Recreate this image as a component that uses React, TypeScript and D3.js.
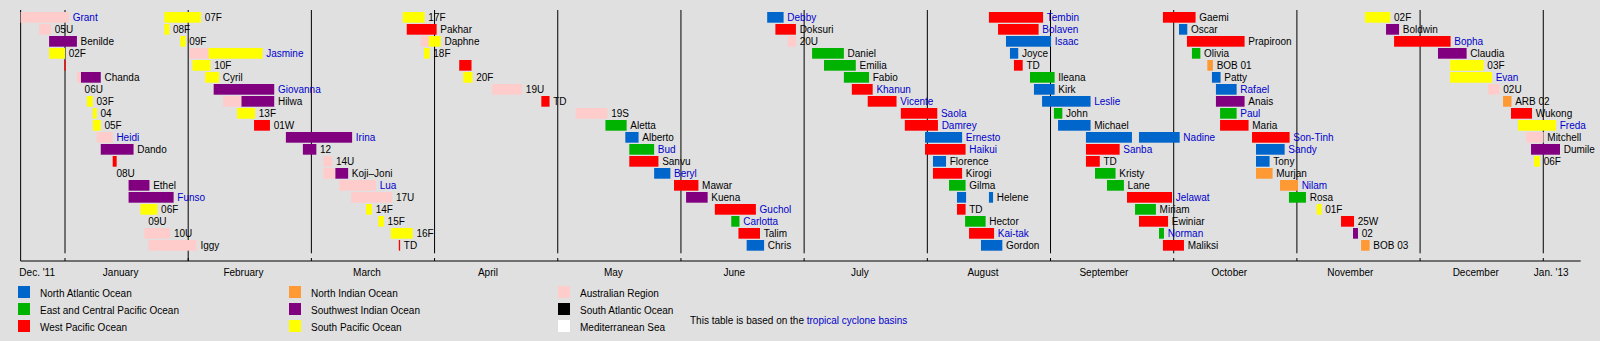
import React from "react";
import * as d3 from "d3";

type Seg = [string, string, string, number];

const northAtlantic: Seg[] = [
  ["Alberto", "2012-05-18", "2012-05-21T08", 10],
  ["Beryl", "2012-05-25T06", "2012-05-29T08", 13],
  ["Chris", "2012-06-17", "2012-06-21T06", 19],
  ["Debby", "2012-06-22", "2012-06-26", 0],
  ["Ernesto", "2012-07-31T10", "2012-08-09T18", 10],
  ["Florence", "2012-08-02T10", "2012-08-05T17", 12],
  ["Helene", "2012-08-08T11", "2012-08-10T18", 15],
  ["Helene", "2012-08-16T12", "2012-08-17T13", 15],
  ["Gordon", "2012-08-14T12", "2012-08-19T21", 19],
  ["Isaac", "2012-08-20T19", "2012-09-01T03", 2],
  ["Joyce", "2012-08-21T19", "2012-08-23T21", 3],
  ["Kirk", "2012-08-27T20", "2012-09-02", 6],
  ["Leslie", "2012-08-29T21", "2012-09-10T18", 7],
  ["Michael", "2012-09-02T20", "2012-09-10T18", 9],
  ["Nadine", "2012-09-09T15", "2012-09-20T20", 10],
  ["Nadine", "2012-09-22T13", "2012-10-02T12", 10],
  ["Oscar", "2012-10-02T08", "2012-10-04T10", 1],
  ["Patty", "2012-10-10T15", "2012-10-12T19", 5],
  ["Rafael", "2012-10-11T15", "2012-10-16T20", 6],
  ["Sandy", "2012-10-21T17", "2012-10-28T22", 11],
  ["Tony", "2012-10-21T17", "2012-10-25T03", 12],
];

const eastPacific: Seg[] = [
  ["Aletta", "2012-05-13", "2012-05-18T08", 9],
  ["Bud", "2012-05-19", "2012-05-25T06", 11],
  ["Carlotta", "2012-06-13T06", "2012-06-15T06", 17],
  ["Daniel", "2012-07-03", "2012-07-11", 3],
  ["Emilia", "2012-07-06", "2012-07-14", 4],
  ["Fabio", "2012-07-11", "2012-07-17T08", 5],
  ["Gilma", "2012-08-06T11", "2012-08-10T15", 14],
  ["Hector", "2012-08-10T12", "2012-08-15T16", 17],
  ["Ileana", "2012-08-26T20", "2012-09-02", 5],
  ["John", "2012-09-01T20", "2012-09-03T21", 8],
  ["Kristy", "2012-09-11T20", "2012-09-16T20", 13],
  ["Lane", "2012-09-14T18", "2012-09-18T21", 14],
  ["Miriam", "2012-09-21T14", "2012-09-26T16", 16],
  ["Norman", "2012-09-27T10", "2012-09-28T15", 18],
  ["Olivia", "2012-10-05T14", "2012-10-07T17", 3],
  ["Paul", "2012-10-12T16", "2012-10-16T20", 8],
  ["Rosa", "2012-10-30", "2012-11-03T05", 15],
];

const westPacific: Seg[] = [
  ["TD", "2011-12-31T20", "2012-01-01T04", 4],
  ["TD", "2012-01-13", "2012-01-14", 12],
  ["01W", "2012-02-16T12", "2012-02-20T06", 9],
  ["TD", "2012-03-23", "2012-03-23T08", 19],
  ["Pakhar", "2012-03-25", "2012-04-01T12", 1],
  ["TD", "2012-04-07", "2012-04-10", 4],
  ["TD", "2012-04-27", "2012-04-29", 7],
  ["Sanvu", "2012-05-19", "2012-05-26T08", 12],
  ["Mawar", "2012-05-30T06", "2012-06-05T06", 14],
  ["Guchol", "2012-06-09T06", "2012-06-19T06", 16],
  ["Talim", "2012-06-15", "2012-06-20T06", 18],
  ["Doksuri", "2012-06-24", "2012-06-29", 1],
  ["Khanun", "2012-07-13", "2012-07-18T06", 6],
  ["Vicente", "2012-07-17", "2012-07-24T06", 7],
  ["Saola", "2012-07-25T08", "2012-08-03T12", 8],
  ["Damrey", "2012-07-26T08", "2012-08-03T16", 9],
  ["Haikui", "2012-07-31T10", "2012-08-10T15", 11],
  ["Kirogi", "2012-08-02T10", "2012-08-09T18", 13],
  ["TD", "2012-08-08T11", "2012-08-10T15", 16],
  ["Kai-tak", "2012-08-11T12", "2012-08-17T19", 18],
  ["Tembin", "2012-08-16T12", "2012-08-30T03", 0],
  ["Bolaven", "2012-08-18T19", "2012-08-29", 1],
  ["TD", "2012-08-22T19", "2012-08-25", 4],
  ["Sanba", "2012-09-09T15", "2012-09-17T20", 11],
  ["TD", "2012-09-09T15", "2012-09-13", 12],
  ["Jelawat", "2012-09-19T15", "2012-09-30T14", 15],
  ["Ewiniar", "2012-09-22T13", "2012-09-29T15", 17],
  ["Maliksi", "2012-09-28T09", "2012-10-03T14", 19],
  ["Gaemi", "2012-09-28T09", "2012-10-06T12", 0],
  ["Prapiroon", "2012-10-04T08", "2012-10-18T20", 2],
  ["Maria", "2012-10-12T16", "2012-10-19T20", 9],
  ["Son-Tinh", "2012-10-20T17", "2012-10-30T04", 10],
  ["25W", "2012-11-11T18", "2012-11-14T22", 17],
  ["Bopha", "2012-11-24T16", "2012-12-08T16", 2],
  ["Wukong", "2012-12-23T21", "2012-12-29T04", 8],
];

const northIndian: Seg[] = [
  ["BOB 01", "2012-10-09T11", "2012-10-10T21", 4],
  ["Murjan", "2012-10-21T17", "2012-10-25T21", 13],
  ["Nilam", "2012-10-27T18", "2012-11-01T06", 14],
  ["BOB 03", "2012-11-16T15", "2012-11-18T17", 19],
  ["ARB 02", "2012-12-21T21", "2012-12-24", 7],
];

const southwestIndian: Seg[] = [
  ["Benilde", "2011-12-28", "2012-01-04", 2],
  ["Chanda", "2012-01-05", "2012-01-10", 5],
  ["Dando", "2012-01-10", "2012-01-18T06", 11],
  ["Ethel", "2012-01-17", "2012-01-22T06", 14],
  ["Funso", "2012-01-17", "2012-01-28T08", 15],
  ["Giovanna", "2012-02-07", "2012-02-21T06", 6],
  ["Hilwa", "2012-02-13T12", "2012-02-21T06", 7],
  ["Irina", "2012-02-24", "2012-03-11T06", 10],
  ["12", "2012-02-28", "2012-03-02T06", 11],
  ["Koji–Joni", "2012-03-07", "2012-03-10T06", 13],
  ["Kuena", "2012-06-02T06", "2012-06-07T12", 15],
  ["Anais", "2012-10-11T15", "2012-10-18T20", 7],
  ["02", "2012-11-14T16", "2012-11-15T21", 18],
  ["Boldwin", "2012-11-22T17", "2012-11-25T21", 1],
  ["Claudia", "2012-12-05T12", "2012-12-12T17", 3],
  ["Dumile", "2012-12-28T22", "2013-01-05T05", 11],
];

const southPacific: Seg[] = [
  ["02F", "2011-12-28", "2012-01-01", 3],
  ["03F", "2012-01-06T12", "2012-01-08", 7],
  ["04", "2012-01-08", "2012-01-09", 8],
  ["05F", "2012-01-08", "2012-01-10", 9],
  ["06F", "2012-01-20", "2012-01-24T06", 16],
  ["07F", "2012-01-26", "2012-02-04", 0],
  ["08F", "2012-01-26", "2012-01-27T06", 1],
  ["09F", "2012-01-30", "2012-01-31T08", 2],
  ["Jasmine", "2012-02-05T18", "2012-02-18T12", 3],
  ["10F", "2012-02-02", "2012-02-06T06", 4],
  ["Cyril", "2012-02-05", "2012-02-08T06", 5],
  ["13F", "2012-02-12T12", "2012-02-16T18", 8],
  ["14F", "2012-03-14T18", "2012-03-16T06", 16],
  ["15F", "2012-03-17T20", "2012-03-19T06", 17],
  ["16F", "2012-03-21", "2012-03-26T12", 18],
  ["17F", "2012-03-24", "2012-03-29T12", 0],
  ["Daphne", "2012-03-30T12", "2012-04-02T12", 2],
  ["18F", "2012-03-29T08", "2012-03-30T18", 3],
  ["20F", "2012-04-08", "2012-04-10T06", 5],
  ["01F", "2012-11-05T20", "2012-11-07", 16],
  ["02F", "2012-11-17T14", "2012-11-23T18", 0],
  ["03F", "2012-12-08T13", "2012-12-17", 4],
  ["Evan", "2012-12-08T13", "2012-12-19T02", 5],
  ["Freda", "2012-12-25T15", "2013-01-04T05", 9],
  ["06F", "2012-12-29T16", "2012-12-31T04", 12],
];

const australianRegion: Seg[] = [
  ["Grant", "2011-12-20T20", "2012-01-02", 0],
  ["05U", "2011-12-25T12", "2011-12-28T12", 1],
  ["Chanda", "2012-01-04", "2012-01-05", 5],
  ["06U", "2012-01-05", "2012-01-05", 6],
  ["Heidi", "2012-01-09", "2012-01-13", 10],
  ["08U", "2012-01-13", "2012-01-13", 13],
  ["09U", "2012-01-21", "2012-01-21", 17],
  ["10U", "2012-01-21", "2012-01-27T12", 18],
  ["Iggy", "2012-01-22", "2012-02-03", 19],
  ["Jasmine", "2012-02-01T06", "2012-02-05T18", 3],
  ["Hilwa", "2012-02-09T06", "2012-02-13T12", 7],
  ["14U", "2012-03-04", "2012-03-06T06", 12],
  ["Koji–Joni", "2012-03-04", "2012-03-07", 13],
  ["Lua", "2012-03-08", "2012-03-17T06", 14],
  ["17U", "2012-03-11", "2012-03-21T08", 15],
  ["Daphne", "2012-03-28T12", "2012-03-30T12", 2],
  ["19U", "2012-04-15", "2012-04-22T08", 6],
  ["19S", "2012-05-05T12", "2012-05-13T12", 8],
  ["20U", "2012-06-27", "2012-06-29", 2],
  ["02U", "2012-12-18T02", "2012-12-21", 6],
  ["Mitchell", "2012-12-27T16", "2013-01-01T02", 10],
];

const linkedStorms = [
  "Grant", "Heidi", "Funso", "Jasmine", "Giovanna", "Irina", "Lua", "Bud", "Beryl",
  "Guchol", "Carlotta", "Debby", "Khanun", "Vicente", "Saola", "Damrey", "Ernesto",
  "Haikui", "Kai-tak", "Tembin", "Bolaven", "Isaac", "Leslie", "Nadine", "Sanba",
  "Jelawat", "Norman", "Rafael", "Paul", "Son-Tinh", "Sandy", "Nilam", "Bopha",
  "Evan", "Freda",
];

const basinNames = [
  "North Atlantic Ocean", "East and Central Pacific Ocean", "West Pacific Ocean",
  "North Indian Ocean", "Southwest Indian Ocean", "South Pacific Ocean",
  "Australian Region", "South Atlantic Ocean", "Mediterranean Sea",
];
const basinColors = [
  "#0066cc", "#00b300", "#ff0000",
  "#ff9933", "#800080", "#ffff00",
  "#ffcccc", "#000000", "#ffffff",
];

const monthLabels = [
  "Dec. '11", "January", "February", "March", "April", "May", "June",
  "July", "August", "September", "October", "November", "December", "Jan. '13",
];
const monthLabelDates = [
  "2011-12-25", "2012-01-15", "2012-02-14", "2012-03-15", "2012-04-14", "2012-05-15",
  "2012-06-14", "2012-07-15", "2012-08-15", "2012-09-14", "2012-10-15", "2012-11-14",
  "2012-12-15", "2013-01-03",
];
const periodStart = "2011-12-20T20";
const periodEnd = "2013-01-10T10";

function toMonths(s: string): number {
  const [date, hh] = s.split("T");
  const [y, m, d] = date.split("-").map(Number);
  const h = hh ? Number(hh) : 0;
  const dim = new Date(Date.UTC(y, m, 0)).getUTCDate();
  return (y - 2012) * 12 + (m - 1) + (d - 1 + h / 24) / dim;
}

const FONT = "'Liberation Sans', Arial, Helvetica, sans-serif";

export default function App() {
  const W = 1600, H = 341;
  const x = d3.scaleLinear().domain([0, 12]).range([65, 1543.28]);
  const rowTop = (r: number) => 12 + 12 * r;
  const barH = 10.7;
  const axisY = 261;
  const gridTop = 10;
  const gridBottom = 253.3;

  const series: Seg[][] = [
    northAtlantic, eastPacific, westPacific,
    northIndian, southwestIndian, southPacific,
    australianRegion, [], [],
  ];

  const bars: { x0: number; x1: number; row: number; color: string; name: string }[] = [];
  series.forEach((arr, bi) => {
    arr.forEach(([name, from, till, row]) => {
      bars.push({ x0: x(toMonths(from)), x1: x(toMonths(till)), row, color: basinColors[bi], name });
    });
  });

  const labelMap = new Map<string, { x: number; row: number; name: string }>();
  bars.forEach((b) => {
    const key = b.name + "|" + b.row;
    const cur = labelMap.get(key);
    if (!cur || b.x1 > cur.x) labelMap.set(key, { x: b.x1, row: b.row, name: b.name });
  });
  const labels = Array.from(labelMap.values());

  const x0 = x(toMonths(periodStart));
  const x1 = x(toMonths(periodEnd));
  const months = d3.range(0, 13);

  return (
    <svg width={W} height={H} style={{ position: "absolute", left: 0, top: 0, display: "block" }}
      fontFamily={FONT}>
      <rect x={0} y={0} width={W} height={H} fill="#e0e0e0" />
      <line x1={x0} x2={x0} y1={gridTop} y2={axisY} stroke="#000" strokeWidth={1} />
      {months.map((m) => (
        <line key={"g" + m} x1={x(m)} x2={x(m)} y1={gridTop}
          y2={m === 1 ? axisY : gridBottom} stroke="#000" strokeWidth={1} />
      ))}
      {bars.map((b, i) => {
        let w = b.x1 - b.x0;
        if (w <= 0) return null;
        let bx = b.x0;
        if (w < 1.3) { bx = b.x0 + w / 2 - 0.65; w = 1.3; }
        return <rect key={"b" + i} x={bx} y={rowTop(b.row)} width={w} height={barH} fill={b.color} />;
      })}
      {labels.map((l, i) => (
        <text key={"l" + i} x={l.x + 3.7} y={rowTop(l.row) + 8.5} fontSize={10}
          fill={linkedStorms.includes(l.name) ? "#0000cc" : "#000"}>{l.name}</text>
      ))}
      <line x1={x0} x2={x1} y1={axisY} y2={axisY} stroke="#000" strokeWidth={1} />
      {months.map((m) => (
        <line key={"t" + m} x1={x(m)} x2={x(m)} y1={axisY - 3} y2={axisY} stroke="#000" strokeWidth={1} />
      ))}
      {monthLabels.map((t, i) => (
        <text key={"m" + i} x={x(toMonths(monthLabelDates[i]))} y={275.8} fontSize={10}
          textAnchor="middle" fill="#000">{t}</text>
      ))}
      {basinNames.map((n, i) => {
        const col = Math.floor(i / 3);
        const r = i % 3;
        const sx = [18, 289, 558][col];
        const cy = 292 + 17 * r;
        return (
          <g key={"lg" + i}>
            <rect x={sx} y={cy - 6} width={12} height={12} fill={basinColors[i]} />
            <text x={sx + 22} y={cy + 4.5} fontSize={10} fill="#000">{n}</text>
          </g>
        );
      })}
      <text x={690} y={323.8} fontSize={10} fill="#000">
        This table is based on the <tspan fill="#0000cc">tropical cyclone basins</tspan>
      </text>
    </svg>
  );
}
